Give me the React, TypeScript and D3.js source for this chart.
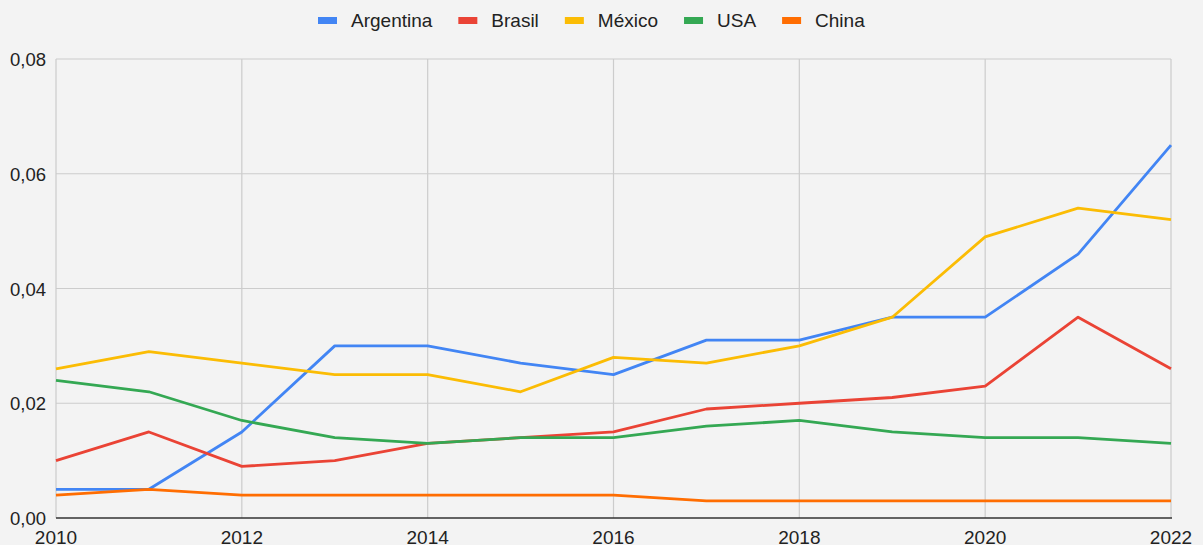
import React from "react";
import * as d3 from "d3";

const years = [2010, 2011, 2012, 2013, 2014, 2015, 2016, 2017, 2018, 2019, 2020, 2021, 2022];
const argentina = [0.005, 0.005, 0.015, 0.03, 0.03, 0.027, 0.025, 0.031, 0.031, 0.035, 0.035, 0.046, 0.065];
const brasil = [0.01, 0.015, 0.009, 0.01, 0.013, 0.014, 0.015, 0.019, 0.02, 0.021, 0.023, 0.035, 0.026];
const mexico = [0.026, 0.029, 0.027, 0.025, 0.025, 0.022, 0.028, 0.027, 0.03, 0.035, 0.049, 0.054, 0.052];
const usa = [0.024, 0.022, 0.017, 0.014, 0.013, 0.014, 0.014, 0.016, 0.017, 0.015, 0.014, 0.014, 0.013];
const china = [0.004, 0.005, 0.004, 0.004, 0.004, 0.004, 0.004, 0.003, 0.003, 0.003, 0.003, 0.003, 0.003];

const seriesNames = ["Argentina", "Brasil", "México", "USA", "China"];
const seriesColors = ["#4285F4", "#EA4335", "#FBBC04", "#34A853", "#FF6D01"];
const seriesValues = [argentina, brasil, mexico, usa, china];

const xTicks = [2010, 2012, 2014, 2016, 2018, 2020, 2022];
const yTicks = [0, 0.02, 0.04, 0.06, 0.08];

const W = 1203;
const H = 545;
const FONT = "'Liberation Sans', Arial, sans-serif";

function measure(text: string, size: number) {
  const c = document.createElement("canvas");
  const ctx = c.getContext("2d");
  if (!ctx) return text.length * size * 0.5;
  ctx.font = `${size}px 'Liberation Sans', Arial, sans-serif`;
  return ctx.measureText(text).width;
}

export default function App() {
  const x = d3.scaleLinear().domain([2010, 2022]).range([56, 1171]);
  const y = d3.scaleLinear().domain([0, 0.08]).range([518, 59]);
  const line = d3
    .line<number>()
    .x((_, i) => x(years[i]))
    .y((d) => y(d));

  const fmt = (v: number) => v.toFixed(2).replace(".", ",");

  // legend layout
  let lx = 318;
  const legendItems = seriesNames.map((name, i) => {
    const item = { name, color: seriesColors[i], x: lx };
    lx += 33 + measure(name, 19) + 26;
    return item;
  });

  return (
    <div style={{ position: "absolute", left: 0, top: 0 }}>
      <svg width={W} height={H} style={{ display: "block", fontFamily: FONT }}>
        <rect x={0} y={0} width={W} height={H} fill="#f3f3f3" />
        {/* horizontal grid */}
        {yTicks.slice(1).map((t) => (
          <line key={"h" + t} x1={x(2010)} x2={x(2022)} y1={y(t)} y2={y(t)} stroke="#cccccc" strokeWidth={1.2} />
        ))}
        {/* vertical grid */}
        {xTicks.map((t) => (
          <line key={"v" + t} x1={x(t)} x2={x(t)} y1={y(0.08)} y2={y(0)} stroke="#cccccc" strokeWidth={1.2} />
        ))}
        {/* baseline */}
        <line x1={x(2010)} x2={x(2022) + 1} y1={y(0)} y2={y(0)} stroke="#333333" strokeWidth={1.5} />
        {/* y labels */}
        {yTicks.map((t) => (
          <text key={"yl" + t} x={46} y={y(t) + 7} textAnchor="end" fontSize={18.5} fill="#222">
            {fmt(t)}
          </text>
        ))}
        {/* x labels */}
        {xTicks.map((t) => (
          <text key={"xl" + t} x={x(t)} y={544} textAnchor="middle" fontSize={19} fill="#222">
            {t}
          </text>
        ))}
        {/* lines */}
        {seriesValues.map((vals, i) => (
          <path
            key={seriesNames[i]}
            d={line(vals) || ""}
            fill="none"
            stroke={seriesColors[i]}
            strokeWidth={2.8}
            strokeLinejoin="round"
          />
        ))}
        {/* legend */}
        {legendItems.map((it) => (
          <g key={it.name}>
            <rect x={it.x} y={17} width={19} height={7} fill={it.color} />
            <text x={it.x + 33} y={26.5} fontSize={19} fill="#222">
              {it.name}
            </text>
          </g>
        ))}
      </svg>
    </div>
  );
}
